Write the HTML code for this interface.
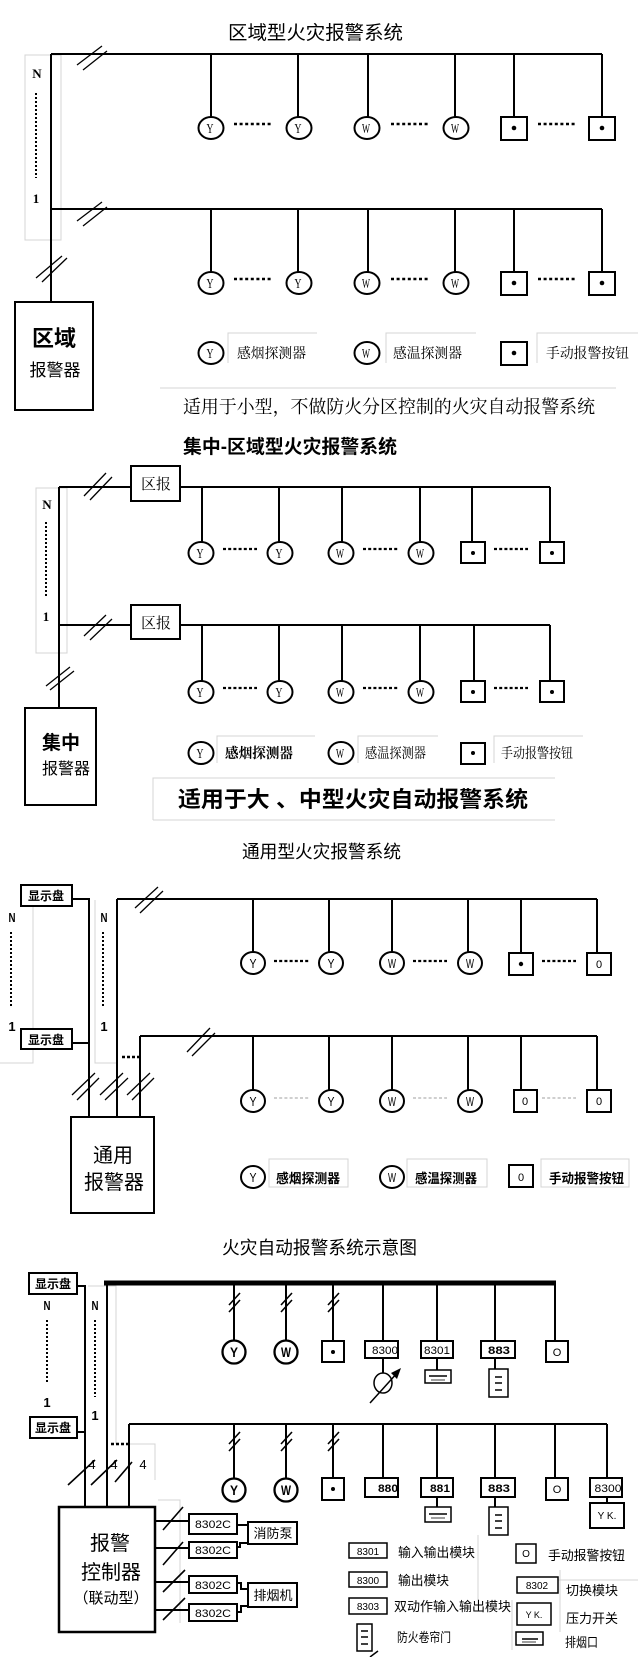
<!DOCTYPE html>
<html><head><meta charset="utf-8"><style>
html,body{margin:0;padding:0;background:#fff;}
svg{display:block;}
.s{font-family:"Liberation Sans","Noto Sans CJK SC",sans-serif;}
.sr{font-family:"Liberation Serif","Noto Serif CJK SC",serif;}
</style></head><body>
<svg width="638" height="1657" viewBox="0 0 638 1657" xmlns="http://www.w3.org/2000/svg">
<rect width="638" height="1657" fill="#fff"/>

<!-- ============ SECTION 1 ============ -->
<text class="s" x="228" y="39" font-size="19" textLength="175" lengthAdjust="spacingAndGlyphs">区域型火灾报警系统</text>
<rect x="25" y="55" width="36" height="185" fill="none" stroke="#d4d4d4" stroke-width="1"/>
<g stroke="#000" stroke-width="2" fill="none">
<path d="M51,54H602 M51,54V302 M51,209H602"/>
<path d="M211,54V117 M298,54V117 M368,54V117 M455,54V117 M514,54V117 M602,54V117"/>
<path d="M211,209V272 M298,209V272 M368,209V272 M455,209V272 M514,209V272 M602,209V272"/>
</g>
<g stroke="#000" stroke-width="1.3">
<path d="M77,65L102,46 M83,70L107,51"/>
<path d="M77,221L102,202 M83,226L107,207"/>
<path d="M36,278L62,256 M42,282L67,258"/>
</g>
<text class="sr" x="37" y="78" font-size="13" font-weight="bold" text-anchor="middle">N</text>
<line x1="36" y1="93" x2="36" y2="178" stroke="#000" stroke-width="2" stroke-dasharray="2 2"/>
<text class="sr" x="36" y="203" font-size="13" font-weight="bold" text-anchor="middle">1</text>
<rect x="15" y="302" width="78" height="108" fill="#fff" stroke="#000" stroke-width="2"/>
<text class="s" x="54" y="346" font-size="22" font-weight="bold" text-anchor="middle">区域</text>
<text class="s" x="55" y="376" font-size="17" text-anchor="middle">报警器</text>
<!-- row 1 -->
<g stroke="#000" stroke-width="2" fill="#fff">
<ellipse cx="211" cy="128" rx="12.5" ry="11"/><ellipse cx="299" cy="128" rx="12.5" ry="11"/>
<ellipse cx="367" cy="128" rx="12.5" ry="11"/><ellipse cx="456" cy="128" rx="12.5" ry="11"/>
<rect x="501" y="117" width="26" height="23"/><rect x="589" y="117" width="26" height="23"/>
<ellipse cx="211" cy="283" rx="12.5" ry="11"/><ellipse cx="299" cy="283" rx="12.5" ry="11"/>
<ellipse cx="367" cy="283" rx="12.5" ry="11"/><ellipse cx="456" cy="283" rx="12.5" ry="11"/>
<rect x="501" y="272" width="26" height="23"/><rect x="589" y="272" width="26" height="23"/>
<ellipse cx="211" cy="353" rx="12.5" ry="11"/><ellipse cx="367" cy="353" rx="12.5" ry="11"/>
<rect x="501" y="342" width="26" height="23"/>
</g>
<g fill="#000"><circle cx="514" cy="128" r="2.3"/><circle cx="602" cy="128" r="2.3"/><circle cx="514" cy="283" r="2.3"/><circle cx="602" cy="283" r="2.3"/><circle cx="514" cy="353" r="2.3"/></g>
<g class="sr" font-size="14" text-anchor="middle">
<text x="210" y="133" textLength="7" lengthAdjust="spacingAndGlyphs">Y</text><text x="298" y="133" textLength="7" lengthAdjust="spacingAndGlyphs">Y</text>
<text x="366" y="133" textLength="8" lengthAdjust="spacingAndGlyphs">W</text><text x="455" y="133" textLength="8" lengthAdjust="spacingAndGlyphs">W</text>
<text x="210" y="288" textLength="7" lengthAdjust="spacingAndGlyphs">Y</text><text x="298" y="288" textLength="7" lengthAdjust="spacingAndGlyphs">Y</text>
<text x="366" y="288" textLength="8" lengthAdjust="spacingAndGlyphs">W</text><text x="455" y="288" textLength="8" lengthAdjust="spacingAndGlyphs">W</text>
<text x="210" y="358" textLength="7" lengthAdjust="spacingAndGlyphs">Y</text><text x="366" y="358" textLength="8" lengthAdjust="spacingAndGlyphs">W</text>
</g>
<g stroke="#000" stroke-width="2.5" stroke-dasharray="3 2.6">
<path d="M234,124H273 M391,124H430 M538,124H577"/>
<path d="M234,279H273 M391,279H430 M538,279H577"/>
</g>
<g stroke="#d4d4d4" stroke-width="1" fill="none">
<path d="M228,363V333H317 M386,363V333H476 M537,363V333H638"/>
<path d="M160,388H616"/>
</g>
<g class="sr" font-size="14">
<text x="237" y="358" textLength="69" lengthAdjust="spacingAndGlyphs">感烟探测器</text>
<text x="393" y="358" textLength="69" lengthAdjust="spacingAndGlyphs">感温探测器</text>
<text x="546" y="358" textLength="83" lengthAdjust="spacingAndGlyphs">手动报警按钮</text>
</g>
<text class="sr" x="183" y="413" font-size="18" textLength="412" lengthAdjust="spacingAndGlyphs">适用于小型，不做防火分区控制的火灾自动报警系统</text>

<!-- ============ SECTION 2 ============ -->
<text class="s" x="183" y="453" font-size="19" font-weight="bold" textLength="214" lengthAdjust="spacingAndGlyphs">集中-区域型火灾报警系统</text>
<rect x="36" y="488" width="31" height="165" fill="none" stroke="#d4d4d4" stroke-width="1"/>
<g stroke="#000" stroke-width="2" fill="none">
<path d="M59,487V708 M59,487H131 M180,487H550 M59,625H131 M180,625H550"/>
<path d="M202,487V542 M279,487V542 M342,487V542 M420,487V542 M472,487V542 M550,487V542"/>
<path d="M202,625V681 M279,625V681 M342,625V681 M420,625V681 M474,625V681 M550,625V681"/>
</g>
<g stroke="#000" stroke-width="1.3">
<path d="M84,496L106,473 M90,500L112,477"/>
<path d="M84,636L106,615 M90,640L112,619"/>
<path d="M46,686L70,667 M50,690L74,671"/>
</g>
<text class="sr" x="47" y="509" font-size="13" font-weight="bold" text-anchor="middle">N</text>
<line x1="46" y1="522" x2="46" y2="598" stroke="#000" stroke-width="2" stroke-dasharray="2 2"/>
<text class="sr" x="46" y="621" font-size="13" font-weight="bold" text-anchor="middle">1</text>
<g stroke="#000" stroke-width="2" fill="#fff">
<rect x="131" y="466" width="49" height="35"/><rect x="131" y="605" width="49" height="34"/>
<rect x="25" y="708" width="71" height="97"/>
</g>
<g class="sr" font-size="15" text-anchor="middle"><text x="156" y="489">区报</text><text x="156" y="628">区报</text></g>
<text class="s" x="61" y="749" font-size="19" font-weight="bold" text-anchor="middle">集中</text>
<text class="s" x="66" y="774" font-size="16" text-anchor="middle">报警器</text>
<g stroke="#000" stroke-width="2" fill="#fff">
<ellipse cx="201" cy="553" rx="12.5" ry="11"/><ellipse cx="280" cy="553" rx="12.5" ry="11"/>
<ellipse cx="341" cy="553" rx="12.5" ry="11"/><ellipse cx="421" cy="553" rx="12.5" ry="11"/>
<rect x="461" y="542" width="24" height="21"/><rect x="540" y="542" width="24" height="21"/>
<ellipse cx="201" cy="692" rx="12.5" ry="11"/><ellipse cx="280" cy="692" rx="12.5" ry="11"/>
<ellipse cx="341" cy="692" rx="12.5" ry="11"/><ellipse cx="421" cy="692" rx="12.5" ry="11"/>
<rect x="461" y="681" width="24" height="21"/><rect x="540" y="681" width="24" height="21"/>
<ellipse cx="201" cy="753" rx="12.5" ry="11"/><ellipse cx="341" cy="753" rx="12.5" ry="11"/>
<rect x="461" y="743" width="24" height="21"/>
</g>
<g fill="#000"><circle cx="473" cy="553" r="2"/><circle cx="552" cy="553" r="2"/><circle cx="473" cy="692" r="2"/><circle cx="552" cy="692" r="2"/><circle cx="473" cy="753" r="2"/></g>
<g class="sr" font-size="14" text-anchor="middle">
<text x="200" y="558" textLength="7" lengthAdjust="spacingAndGlyphs">Y</text><text x="279" y="558" textLength="7" lengthAdjust="spacingAndGlyphs">Y</text>
<text x="340" y="558" textLength="8" lengthAdjust="spacingAndGlyphs">W</text><text x="420" y="558" textLength="8" lengthAdjust="spacingAndGlyphs">W</text>
<text x="200" y="697" textLength="7" lengthAdjust="spacingAndGlyphs">Y</text><text x="279" y="697" textLength="7" lengthAdjust="spacingAndGlyphs">Y</text>
<text x="340" y="697" textLength="8" lengthAdjust="spacingAndGlyphs">W</text><text x="420" y="697" textLength="8" lengthAdjust="spacingAndGlyphs">W</text>
<text x="200" y="758" textLength="7" lengthAdjust="spacingAndGlyphs">Y</text><text x="340" y="758" textLength="8" lengthAdjust="spacingAndGlyphs">W</text>
</g>
<g stroke="#000" stroke-width="2.3" stroke-dasharray="3 2.2">
<path d="M223,549H257 M363,549H398 M494,549H528"/>
<path d="M223,688H257 M363,688H398 M494,688H528"/>
</g>
<g stroke="#d4d4d4" stroke-width="1" fill="none">
<path d="M217,763V736H315 M358,763V736H438 M494,763V736H583"/>
<path d="M153,820V778H555 M153,820H555"/>
</g>
<g class="sr" font-size="14">
<text x="225" y="758" font-weight="bold" textLength="68" lengthAdjust="spacingAndGlyphs">感烟探测器</text>
<text x="365" y="758" textLength="61" lengthAdjust="spacingAndGlyphs">感温探测器</text>
<text x="501" y="758" textLength="72" lengthAdjust="spacingAndGlyphs">手动报警按钮</text>
</g>
<text class="s" x="178" y="807" font-size="22" font-weight="bold" textLength="350" lengthAdjust="spacingAndGlyphs">适用于大 、中型火灾自动报警系统</text>

<!-- ============ SECTION 3 ============ -->
<text class="s" x="242" y="858" font-size="18" textLength="159" lengthAdjust="spacingAndGlyphs">通用型火灾报警系统</text>
<g stroke="#d4d4d4" stroke-width="1" fill="none">
<path d="M33,906V1063H0 M95,900V1063H117"/>
</g>
<g stroke="#000" stroke-width="2" fill="none">
<path d="M72,899H89V1117 M72,1043H89"/>
<path d="M117,899V1117 M117,899H597 M140,1036V1117 M140,1036H597"/>
<path d="M253,899V952 M329,899V952 M392,899V952 M468,899V952 M521,899V953 M597,899V953"/>
<path d="M253,1036V1090 M329,1036V1090 M392,1036V1090 M468,1036V1090 M521,1036V1090 M597,1036V1090"/>
</g>
<g stroke="#000" stroke-width="2" fill="#fff">
<rect x="21" y="885" width="51" height="21"/><rect x="21" y="1029" width="51" height="20"/>
<rect x="71" y="1117" width="83" height="96"/>
</g>
<g class="s" font-size="12" font-weight="bold" text-anchor="middle"><text x="46" y="900">显示盘</text><text x="46" y="1044">显示盘</text></g>
<g class="s" font-size="13" font-weight="bold" text-anchor="middle">
<text x="12" y="922" textLength="7" lengthAdjust="spacingAndGlyphs">N</text><text x="12" y="1031">1</text>
<text x="104" y="922" textLength="7" lengthAdjust="spacingAndGlyphs">N</text><text x="104" y="1031">1</text>
</g>
<g stroke="#000" stroke-width="2" stroke-dasharray="2 2"><path d="M11,932V1008 M103,932V1008"/></g>
<line x1="122" y1="1057" x2="140" y2="1057" stroke="#000" stroke-width="2.5" stroke-dasharray="3 2"/>
<g stroke="#000" stroke-width="1.3">
<path d="M135,908L158,887 M140,913L163,891"/>
<path d="M187,1052L210,1028 M192,1056L215,1033"/>
<path d="M72,1095L95,1073 M77,1100L99,1078"/>
<path d="M100,1095L123,1073 M105,1100L128,1078"/>
<path d="M127,1095L150,1073 M132,1100L154,1078"/>
</g>
<text class="s" x="113" y="1162" font-size="20" text-anchor="middle">通用</text>
<text class="s" x="114" y="1189" font-size="20" text-anchor="middle">报警器</text>
<g stroke="#000" stroke-width="2" fill="#fff">
<ellipse cx="253" cy="963" rx="12" ry="11"/><ellipse cx="331" cy="963" rx="12" ry="11"/>
<ellipse cx="392" cy="963" rx="12" ry="11"/><ellipse cx="470" cy="963" rx="12" ry="11"/>
<rect x="509" y="953" width="24" height="22"/><rect x="587" y="953" width="24" height="22"/>
<ellipse cx="253" cy="1101" rx="12" ry="11"/><ellipse cx="331" cy="1101" rx="12" ry="11"/>
<ellipse cx="392" cy="1101" rx="12" ry="11"/><ellipse cx="470" cy="1101" rx="12" ry="11"/>
<rect x="514" y="1090" width="23" height="22"/><rect x="587" y="1090" width="24" height="22"/>
<ellipse cx="253" cy="1177" rx="12" ry="11"/><ellipse cx="392" cy="1177" rx="12" ry="11"/>
<rect x="509" y="1165" width="24" height="22"/>
</g>
<circle cx="521" cy="964" r="2.2" fill="#000"/>
<g class="s" font-size="13" text-anchor="middle">
<text x="253" y="968" textLength="7" lengthAdjust="spacingAndGlyphs">Y</text><text x="331" y="968" textLength="7" lengthAdjust="spacingAndGlyphs">Y</text>
<text x="392" y="968" textLength="8" lengthAdjust="spacingAndGlyphs">W</text><text x="470" y="968" textLength="8" lengthAdjust="spacingAndGlyphs">W</text>
<text x="599" y="968" font-size="11">0</text>
<text x="253" y="1106" textLength="7" lengthAdjust="spacingAndGlyphs">Y</text><text x="331" y="1106" textLength="7" lengthAdjust="spacingAndGlyphs">Y</text>
<text x="392" y="1106" textLength="8" lengthAdjust="spacingAndGlyphs">W</text><text x="470" y="1106" textLength="8" lengthAdjust="spacingAndGlyphs">W</text>
<text x="525" y="1105" font-size="11">0</text><text x="599" y="1105" font-size="11">0</text>
<text x="253" y="1182" textLength="7" lengthAdjust="spacingAndGlyphs">Y</text><text x="392" y="1182" textLength="8" lengthAdjust="spacingAndGlyphs">W</text>
<text x="521" y="1181" font-size="11">0</text>
</g>
<g stroke="#000" stroke-width="2.3" stroke-dasharray="3 2.2"><path d="M274,961H309 M413,961H447 M542,961H576"/></g>
<g stroke="#cfcfcf" stroke-width="2" stroke-dasharray="3 2.2"><path d="M274,1098H309 M413,1098H447 M542,1098H576"/></g>
<g stroke="#d4d4d4" stroke-width="1" fill="none">
<rect x="269" y="1159" width="79" height="28"/><rect x="407" y="1159" width="80" height="28"/><rect x="541" y="1159" width="88" height="28"/>
</g>
<g class="s" font-size="13" font-weight="bold">
<text x="276" y="1183" textLength="64" lengthAdjust="spacingAndGlyphs">感烟探测器</text>
<text x="415" y="1183" textLength="62" lengthAdjust="spacingAndGlyphs">感温探测器</text>
<text x="549" y="1183" textLength="75" lengthAdjust="spacingAndGlyphs">手动报警按钮</text>
</g>

<!-- ============ SECTION 4 ============ -->
<text class="s" x="222" y="1254" font-size="18" textLength="195" lengthAdjust="spacingAndGlyphs">火灾自动报警系统示意图</text>
<g stroke="#d4d4d4" stroke-width="1" fill="none">
<path d="M88,1286H116V1444 M127,1444H155V1480 M158,1500H180V1623"/>
<path d="M478,1535V1600 M512,1600V1650 M560,1570V1632 M540,1580H638"/>
</g>
<g stroke="#000" stroke-width="2" fill="none">
<path d="M77,1286H85V1507 M77,1432H85"/>
<path d="M107,1283V1507 M129,1424V1507 M129,1424H607"/>
<path d="M234,1283V1341 M286,1283V1341 M333,1283V1341 M383,1283V1341 M437,1283V1341 M495,1283V1341 M555,1283V1341"/>
<path d="M234,1424V1479 M286,1424V1479 M333,1424V1478 M383,1424V1478 M437,1424V1478 M495,1424V1478 M555,1424V1478 M607,1424V1478"/>
<path d="M383,1358V1373 M437,1358V1370 M495,1358V1369"/>
<path d="M437,1497V1507 M495,1497V1507 M607,1497V1503"/>
<path d="M155,1521H189 M155,1548H189 M155,1582H189 M155,1610H189"/>
<path d="M237,1525H249 M237,1547H240V1543H249 M237,1583H241V1589H249 M237,1612H241V1606H249"/>
</g>
<line x1="104" y1="1283" x2="556" y2="1283" stroke="#000" stroke-width="5"/>
<g stroke="#000" stroke-width="1.6">
<path d="M229,1305L240,1293 M229,1312L240,1300 M281,1305L292,1293 M281,1312L292,1300 M328,1305L339,1293 M328,1312L339,1300"/>
<path d="M229,1444L240,1432 M229,1451L240,1439 M281,1444L292,1432 M281,1451L292,1439 M328,1444L339,1432 M328,1451L339,1439"/>
<path d="M68,1485L95,1460 M91,1485L117,1460 M115,1482L132,1462"/>
<path d="M163,1530L183,1507 M163,1565L183,1542 M163,1592L185,1570 M163,1620L185,1598"/>
</g>
<g class="s" font-size="13" font-weight="bold" text-anchor="middle">
<text x="47" y="1310" textLength="7" lengthAdjust="spacingAndGlyphs">N</text><text x="47" y="1407">1</text>
<text x="95" y="1310" textLength="7" lengthAdjust="spacingAndGlyphs">N</text><text x="95" y="1420">1</text>
</g>
<g stroke="#000" stroke-width="2" stroke-dasharray="2 2"><path d="M47,1320V1382 M95,1320V1397"/></g>
<line x1="111" y1="1444" x2="128" y2="1444" stroke="#000" stroke-width="2.5" stroke-dasharray="3 2"/>
<g class="s" font-size="13" text-anchor="middle"><text x="92" y="1469">4</text><text x="114" y="1469">4</text><text x="143" y="1469">4</text></g>
<g stroke="#000" stroke-width="2" fill="#fff">
<rect x="29" y="1273" width="48" height="21"/><rect x="30" y="1417" width="47" height="21"/>
<rect x="59" y="1507" width="96" height="125" stroke-width="2.5"/>
<rect x="189" y="1514" width="48" height="20"/><rect x="189" y="1542" width="48" height="16"/>
<rect x="189" y="1576" width="48" height="17"/><rect x="189" y="1604" width="48" height="17"/>
<rect x="248" y="1522" width="49" height="22"/><rect x="248" y="1583" width="49" height="24"/>
</g>
<g class="s" font-size="12" font-weight="bold" text-anchor="middle"><text x="53" y="1288">显示盘</text><text x="53" y="1432">显示盘</text></g>
<text class="s" x="110" y="1550" font-size="20" text-anchor="middle">报警</text>
<text class="s" x="111" y="1579" font-size="20" text-anchor="middle">控制器</text>
<text class="s" x="111" y="1603" font-size="15" text-anchor="middle">（联动型）</text>
<g class="s" font-size="11" text-anchor="middle">
<text x="213" y="1528" textLength="36" lengthAdjust="spacingAndGlyphs">8302C</text>
<text x="213" y="1554" textLength="36" lengthAdjust="spacingAndGlyphs">8302C</text>
<text x="213" y="1589" textLength="36" lengthAdjust="spacingAndGlyphs">8302C</text>
<text x="213" y="1617" textLength="36" lengthAdjust="spacingAndGlyphs">8302C</text>
</g>
<g class="s" font-size="13" text-anchor="middle"><text x="273" y="1538">消防泵</text><text x="273" y="1600">排烟机</text></g>
<!-- devices -->
<g stroke="#000" stroke-width="2.3" fill="#fff">
<circle cx="234" cy="1352" r="11.5"/><circle cx="286" cy="1352" r="11.5"/>
<circle cx="234" cy="1490" r="11.5"/><circle cx="286" cy="1490" r="11.5"/>
</g>
<g stroke="#000" stroke-width="2" fill="#fff">
<rect x="322" y="1341" width="22" height="21"/><rect x="365" y="1341" width="33" height="17"/>
<rect x="421" y="1341" width="32" height="17"/><rect x="481" y="1341" width="34" height="17"/>
<rect x="546" y="1341" width="22" height="21"/>
<rect x="322" y="1478" width="22" height="22"/><rect x="365" y="1478" width="33" height="19"/>
<rect x="421" y="1478" width="32" height="19"/><rect x="481" y="1478" width="34" height="19"/>
<rect x="546" y="1478" width="22" height="22"/><rect x="590" y="1478" width="32" height="19"/>
<rect x="590" y="1503" width="34" height="25"/>
</g>
<g stroke="#000" stroke-width="1.5" fill="#fff">
<ellipse cx="383" cy="1383" rx="9" ry="10"/>
<rect x="425" y="1370" width="26" height="13"/><rect x="489" y="1369" width="19" height="28"/>
<rect x="425" y="1507" width="26" height="15"/><rect x="489" y="1507" width="19" height="28"/>
<rect x="349" y="1543" width="38" height="15"/><rect x="349" y="1572" width="38" height="15"/>
<rect x="349" y="1598" width="38" height="16"/><rect x="357" y="1624" width="15" height="27"/>
<rect x="516" y="1544" width="20" height="19"/><rect x="517" y="1577" width="41" height="16"/>
<rect x="517" y="1603" width="34" height="22"/><rect x="516" y="1632" width="27" height="13"/>
</g>
<g stroke="#000" stroke-width="1.5">
<path d="M370,1403L398,1372"/>
<path d="M429,1376H447 M495,1377H502 M495,1383H502 M495,1390H502"/>
<path d="M429,1514H447 M495,1515H502 M495,1521H502 M495,1528H502"/>
<path d="M361,1631H368 M361,1637H368 M361,1644H368 M522,1639H538"/>
<path d="M370,1657L378,1651"/>
</g>
<g stroke="#000" stroke-width="0.8"><path d="M431,1380H445 M431,1518H445 M522,1642H536"/></g>
<polygon points="401,1368 391,1373 397,1379" fill="#000"/>
<g fill="#000"><circle cx="333" cy="1352" r="2"/><circle cx="333" cy="1489" r="2"/></g>
<g class="s" font-size="14" font-weight="bold" text-anchor="middle">
<text x="234" y="1357" textLength="8" lengthAdjust="spacingAndGlyphs">Y</text><text x="286" y="1357" textLength="10" lengthAdjust="spacingAndGlyphs">W</text>
<text x="234" y="1495" textLength="8" lengthAdjust="spacingAndGlyphs">Y</text><text x="286" y="1495" textLength="10" lengthAdjust="spacingAndGlyphs">W</text>
</g>
<g class="s" font-size="11" text-anchor="middle">
<text x="385" y="1354" textLength="26" lengthAdjust="spacingAndGlyphs">8300</text>
<text x="437" y="1354" textLength="26" lengthAdjust="spacingAndGlyphs">8301</text>
<text x="499" y="1354" font-weight="bold" textLength="22" lengthAdjust="spacingAndGlyphs">883</text>
<text x="557" y="1356">O</text>
<text x="388" y="1492" font-weight="bold" textLength="20" lengthAdjust="spacingAndGlyphs">880</text>
<text x="440" y="1492" font-weight="bold" textLength="20" lengthAdjust="spacingAndGlyphs">881</text>
<text x="499" y="1492" font-weight="bold" textLength="22" lengthAdjust="spacingAndGlyphs">883</text>
<text x="557" y="1493">O</text>
<text x="608" y="1492" textLength="27" lengthAdjust="spacingAndGlyphs">8300</text>
<text x="607" y="1519" font-size="10">Y K.</text>
<text x="368" y="1555" font-size="10">8301</text>
<text x="368" y="1584" font-size="10">8300</text>
<text x="368" y="1610" font-size="10">8303</text>
<text x="526" y="1557" font-size="10">O</text>
<text x="537" y="1589" font-size="10">8302</text>
<text x="534" y="1618" font-size="9">Y K.</text>
</g>
<g class="s" font-size="13">
<text x="398" y="1557" textLength="77" lengthAdjust="spacingAndGlyphs">输入输出模块</text>
<text x="398" y="1585" textLength="51" lengthAdjust="spacingAndGlyphs">输出模块</text>
<text x="394" y="1611" textLength="117" lengthAdjust="spacingAndGlyphs">双动作输入输出模块</text>
<text x="397" y="1642" textLength="54" lengthAdjust="spacingAndGlyphs">防火卷帘门</text>
<text x="548" y="1560" textLength="77" lengthAdjust="spacingAndGlyphs">手动报警按钮</text>
<text x="566" y="1595" textLength="52" lengthAdjust="spacingAndGlyphs">切换模块</text>
<text x="566" y="1623" textLength="52" lengthAdjust="spacingAndGlyphs">压力开关</text>
<text x="565" y="1647" textLength="33" lengthAdjust="spacingAndGlyphs">排烟口</text>
</g>
</svg>
</body></html>
